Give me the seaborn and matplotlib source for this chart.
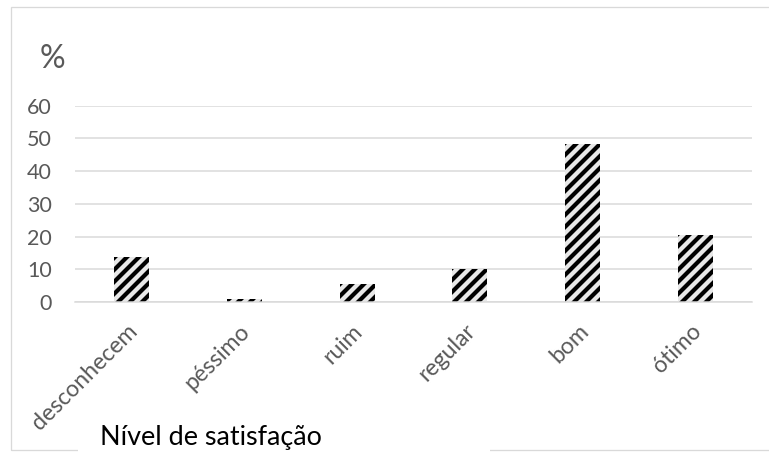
import matplotlib
matplotlib.use("Agg")
import matplotlib.pyplot as plt
import matplotlib.transforms as mtransforms
from matplotlib.patches import Rectangle
import seaborn as sns
import pandas as pd

categories = ["desconhecem", "péssimo", "ruim", "regular", "bom", "ótimo"]
values = [13.7, 0.9, 5.5, 10.1, 48.3, 20.4]
yticks = [0, 10, 20, 30, 40, 50, 60]
ylabel_text = "%"
xlabel_text = "Nível de satisfação"

sns.set_style("white")
plt.rcParams["font.family"] = ["Lato", "DejaVu Sans"]
plt.rcParams["hatch.linewidth"] = 4.2
plt.rcParams["hatch.color"] = "black"

W, H, DPI = 769, 452, 72
fig = plt.figure(figsize=(W / DPI, H / DPI), dpi=DPI)
ax = fig.add_axes([75 / W, 1 - 302 / H, (752 - 75) / W, (302 - 105.7) / H])

df = pd.DataFrame({"cat": categories, "val": values})
sns.barplot(data=df, x="cat", y="val", ax=ax, color="#e8e8e8", width=0.31,
            saturation=1)
for p in ax.patches:
    p.set_hatch("//")
    p.set_edgecolor("black")
    p.set_linewidth(0)
    p.set_facecolor("#e8e8e8")

ax.set_ylim(0, 60)
ax.set_xlim(-0.5, len(categories) - 0.5)
ax.set_yticks(yticks)
ax.yaxis.grid(True, color="#d9d9d9", linewidth=1.5)
ax.set_axisbelow(True)
for s in ["top", "right", "left"]:
    ax.spines[s].set_visible(False)
ax.spines["bottom"].set_color("#d9d9d9")
ax.spines["bottom"].set_linewidth(1.5)
ax.tick_params(axis="y", length=0, pad=23, labelsize=21.5, labelcolor="#595959")
ax.tick_params(axis="x", length=0, labelsize=23, labelcolor="#595959")
ax.set_xlabel("")
ax.set_ylabel("")

offset = mtransforms.ScaledTranslation(-5 / DPI, -15 / DPI, fig.dpi_scale_trans)
for lab in ax.get_xticklabels():
    lab.set_rotation(45)
    lab.set_ha("right")
    lab.set_va("top")
    lab.set_rotation_mode("anchor")
    lab.set_transform(lab.get_transform() + offset)

# outer chart border
fig.patches.append(Rectangle((11 / W, 1 - 450 / H), (W + 20) / W, (450 - 7) / H,
                             transform=fig.transFigure, fill=False,
                             edgecolor="#d9d9d9", linewidth=1.3, zorder=0))
fig.patches.append(Rectangle((78 / W, 1 - 452 / H), (490 - 78) / W, 24 / H,
                             transform=fig.transFigure, facecolor="white",
                             edgecolor="none", zorder=1))

fig.text(52 / W, 1 - 59.5 / H, ylabel_text, fontsize=32, color="#595959",
         va="center", ha="center")
fig.text(100 / W, 1 - 438 / H, xlabel_text, fontsize=27, color="black",
         va="center", ha="left", zorder=3)

fig.savefig("out.png", dpi=DPI)
